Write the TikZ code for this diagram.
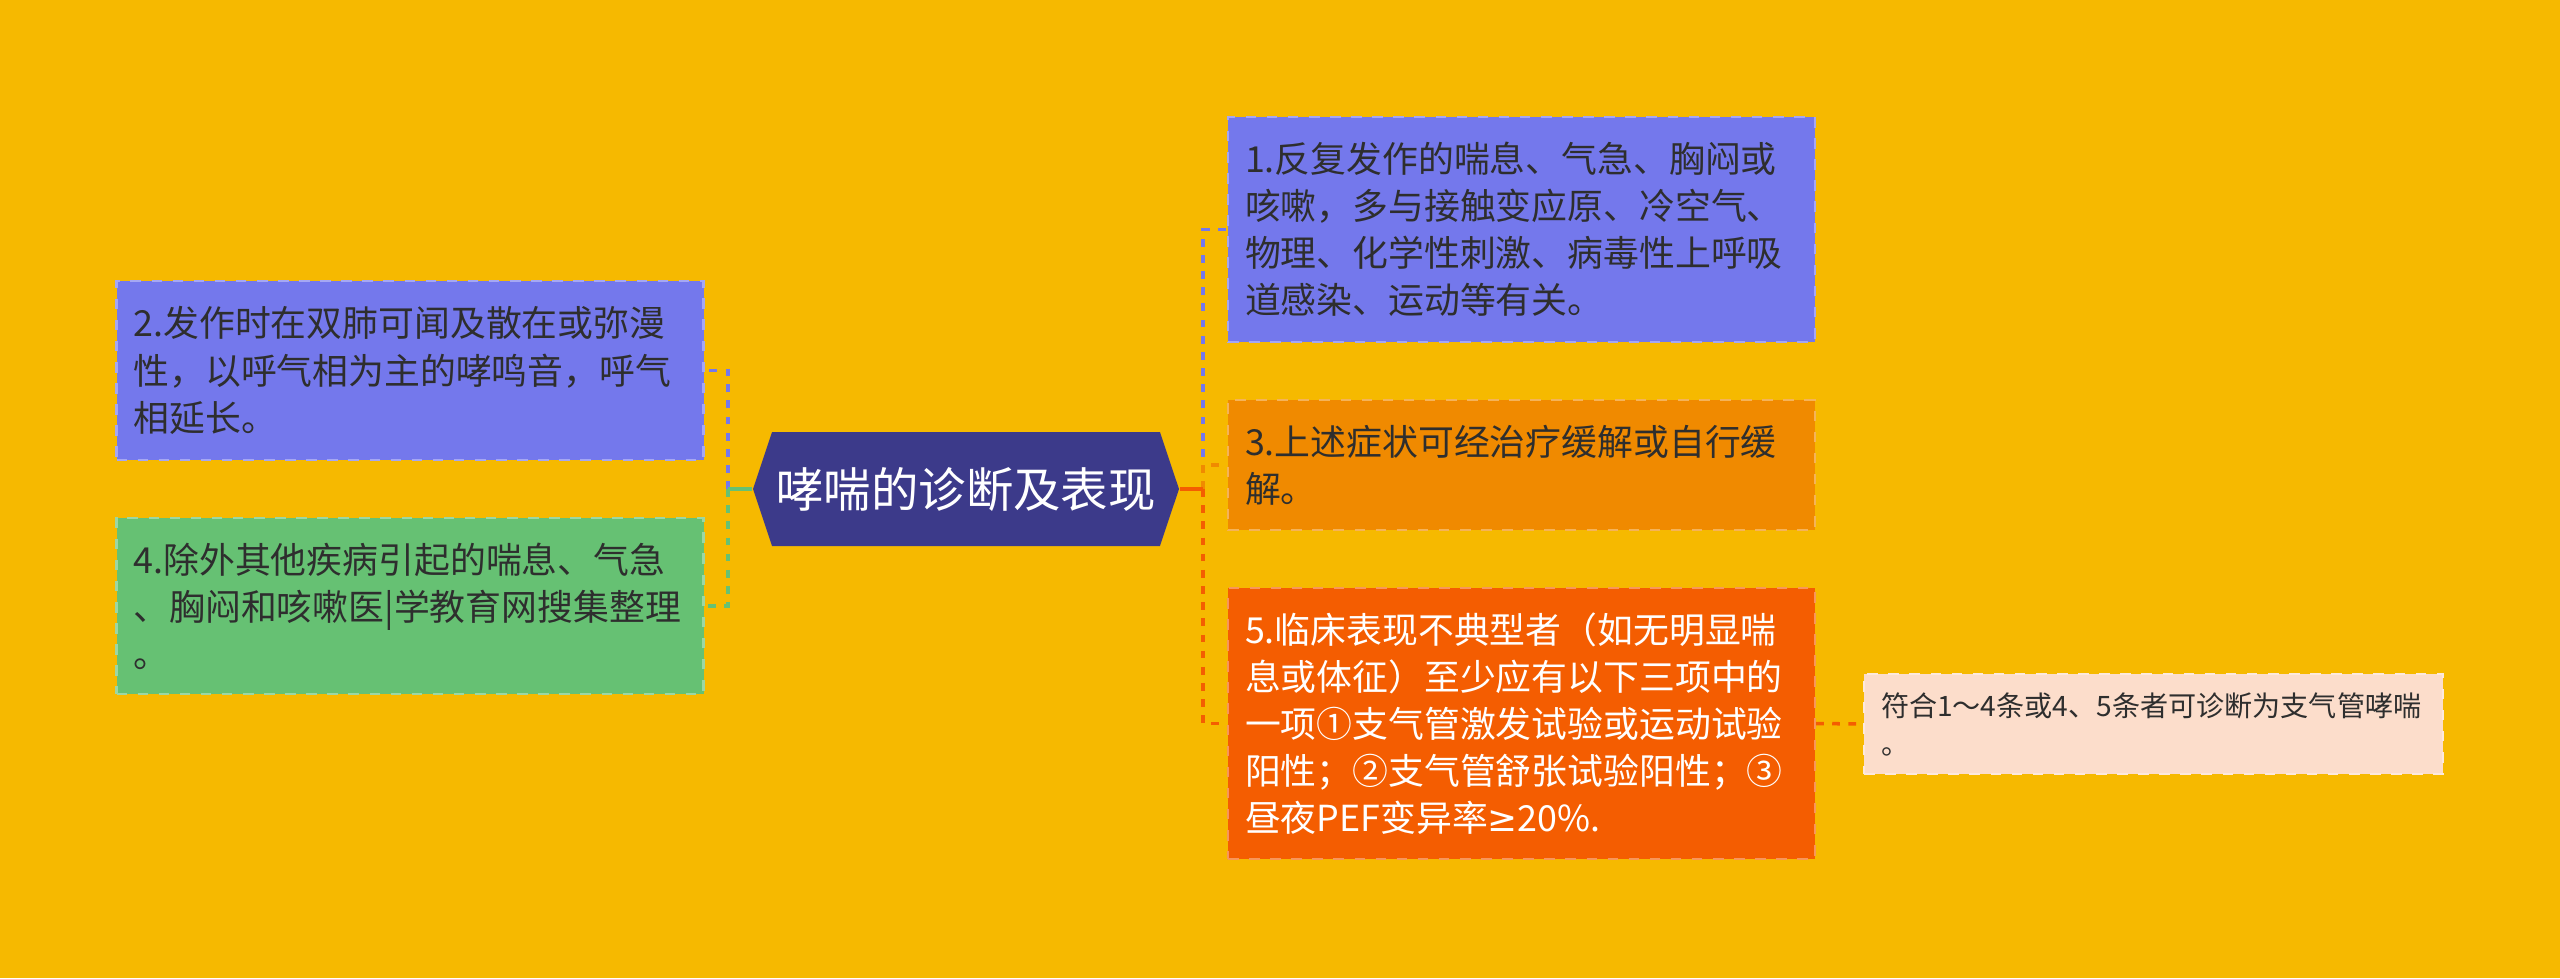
\documentclass[tikz,border=0pt]{standalone}
\usepackage{fontspec}
\setmainfont{Noto Sans CJK SC}
\newfontfamily\symfont{DejaVu Sans}
\usetikzlibrary{shapes.symbols}
\definecolor{bg}{HTML}{F6B900}
\definecolor{boxblue}{HTML}{7478EC}
\definecolor{boxgreen}{HTML}{66C173}
\definecolor{boxorange}{HTML}{F08A00}
\definecolor{boxred}{HTML}{F45D01}
\definecolor{boxpale}{HTML}{FCDDCB}
\definecolor{hexblue}{HTML}{3C3A8A}
\definecolor{ink}{HTML}{2E2E2E}

\begin{document}
\begin{tikzpicture}[
      box/.style={rectangle, fill=#1, draw=#1!65!white, dashed, line width=0.6pt,
        text=ink, align=left, inner xsep=0.17cm, text width=5.53cm,
        font=\fontsize{10.2}{13.4}\selectfont},
      hexnode/.style={signal, signal to=west and east, signal pointer angle=143,
        fill=hexblue, text=white, minimum width=4.26cm, minimum height=1.14cm,
        inner sep=0pt, font=\fontsize{13.5}{16}\selectfont},
      link/.style={draw=#1, line width=1pt, dash pattern=on 2.2pt off 2.4pt},
      stem/.style={draw=#1, line width=1pt},
    ]
      \fill[bg] (0,0) rectangle (25.6,-9.78);
      \useasboundingbox (0,0) rectangle (25.6,-9.78);
      \node[hexnode] (0) at (9.66,-4.89) {哮喘的诊断及表现};
      \node[box=boxblue, minimum height=2.25cm] (1) at (15.215,-2.295)
        {1.反复发作的喘息、气急、胸闷或\\咳嗽，多与接触变应原、冷空气、\\物理、化学性刺激、病毒性上呼吸\\道感染、运动等有关。};
      \node[box=boxblue, minimum height=1.79cm] (2) at (4.10,-3.705)
        {2.发作时在双肺可闻及散在或弥漫\\性，以呼气相为主的哮鸣音，呼气\\相延长。};
      \node[box=boxorange, minimum height=1.30cm] (3) at (15.215,-4.65)
        {3.上述症状可经治疗缓解或自行缓\\解。};
      \node[box=boxgreen, minimum height=1.76cm] (4) at (4.10,-6.06)
        {4.除外其他疾病引起的喘息、气急\\、胸闷和咳嗽医|学教育网搜集整理\\。};
      \node[box=boxred, text=white, minimum height=2.71cm] (5) at (15.215,-7.235)
        {5.临床表现不典型者（如无明显喘\\息或体征）至少应有以下三项中的\\一项①支气管激发试验或运动试验\\阳性；②支气管舒张试验阳性；③\\昼夜PEF变异率{\symfont ≥}20\%.};
      \node[box=boxpale, text width=5.45cm, minimum height=1.00cm,
        font=\fontsize{8}{10.8}\selectfont] (6) at (21.535,-7.24)
        {符合1～4条或4、5条者可诊断为支气管哮喘\\。};
      \coordinate (7) at (7.28,-4.89);
      \coordinate (8) at (12.03,-4.89);
      \draw[link=boxblue] (7) |- (2.east);
      \draw[link=boxgreen] (7) |- (4.east);
      \draw[stem=boxgreen] (0.west) -- (7);
      \draw[link=boxblue] (8) |- (1.west);
      \draw[link=boxred] (8) |- (5.west);
      \draw[link=boxorange] (8) |- (3.west);
      \draw[stem=boxred] (0.east) -- (8);
      \draw[link=boxred] (5.east) -- (6.west);
    \end{tikzpicture}
\end{document}
